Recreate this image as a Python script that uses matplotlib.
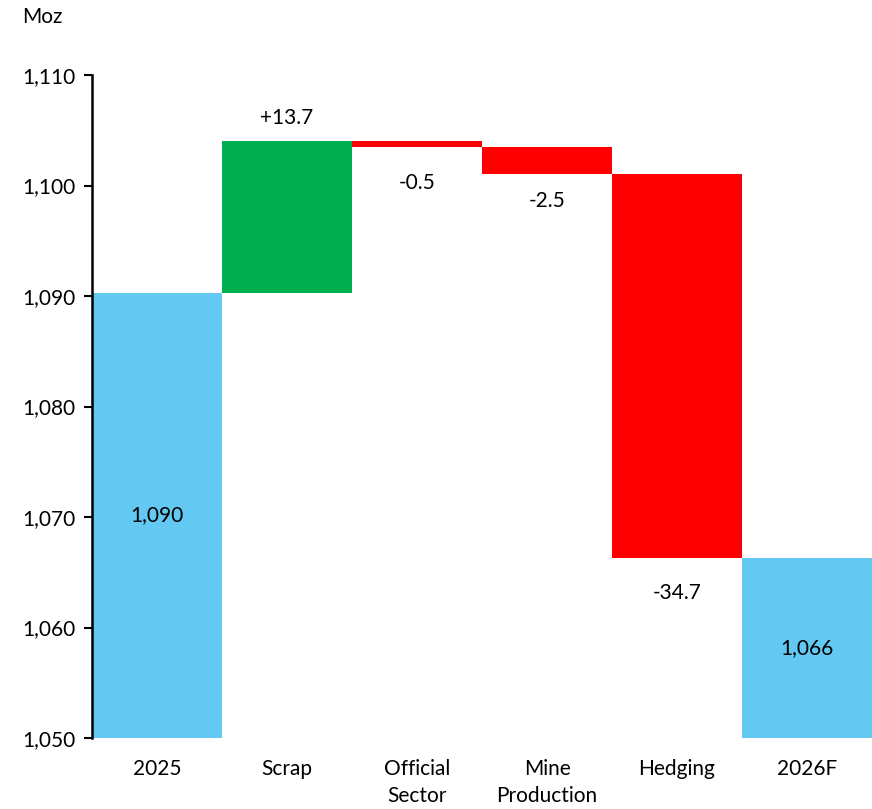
import matplotlib
matplotlib.use("Agg")
import matplotlib.pyplot as plt

plt.rcParams['font.family'] = ['Lato', 'DejaVu Sans']

categories = ["2025", "Scrap", "Official\nSector", "Mine\nProduction", "Hedging", "2026F"]
start_value = 1090.3
changes = [13.7, -0.5, -2.5, -34.7]
end_value = 1066.3
change_labels = ["+13.7", "-0.5", "-2.5", "-34.7"]
total_labels = ["1,090", "1,066"]
y_ticks = [1050, 1060, 1070, 1080, 1090, 1100, 1110]
y_tick_labels = ["1,050", "1,060", "1,070", "1,080", "1,090", "1,100", "1,110"]

BLUE = "#63C9F2"
GREEN = "#00B050"
RED = "#FF0000"
ymin = 1050
FS = 15

fig = plt.figure(figsize=(8.72, 8.09), dpi=100)
ax = fig.add_axes([92/872, 1 - 738/809, (872-92)/872, (738-75)/809])

# totals
ax.bar(0, start_value - ymin, bottom=ymin, width=1.0, color=BLUE)
ax.bar(5, end_value - ymin, bottom=ymin, width=1.0, color=BLUE)
ax.text(0, (start_value + ymin) / 2, total_labels[0], ha='center', va='center', fontsize=FS)
ax.text(5, (end_value + ymin) / 2, total_labels[1], ha='center', va='center', fontsize=FS)

# changes
offsets = [23, -36, -27, -35]
level = start_value
for i, (c, lab) in enumerate(zip(changes, change_labels)):
    x = i + 1
    new = level + c
    color = GREEN if c > 0 else RED
    ax.bar(x, abs(c), bottom=min(level, new), width=1.0, color=color)
    anchor = max(level, new) if c > 0 else min(level, new)
    ax.annotate(lab, (x, anchor), xytext=(0, offsets[i] * 0.72),
                textcoords='offset points', ha='center', va='center', fontsize=FS)
    level = new

ax.set_xlim(-0.5, 5.5)
ax.set_ylim(1050, 1110)
ax.set_yticks(y_ticks)
ax.set_yticklabels(y_tick_labels, fontsize=FS)
ax.set_xticks(range(len(categories)))
ax.set_xticklabels(categories, fontsize=FS, linespacing=1.45)
ax.tick_params(axis='x', length=0, pad=15)
ax.tick_params(axis='y', direction='out', length=6, width=1.5, pad=6)
for s in ['top', 'right', 'bottom']:
    ax.spines[s].set_visible(False)
ax.spines['left'].set_linewidth(1.8)

fig.text(42/872, 1 - 17/809, "Moz", ha='center', va='center', fontsize=FS)

fig.savefig("out.png", dpi=100)
